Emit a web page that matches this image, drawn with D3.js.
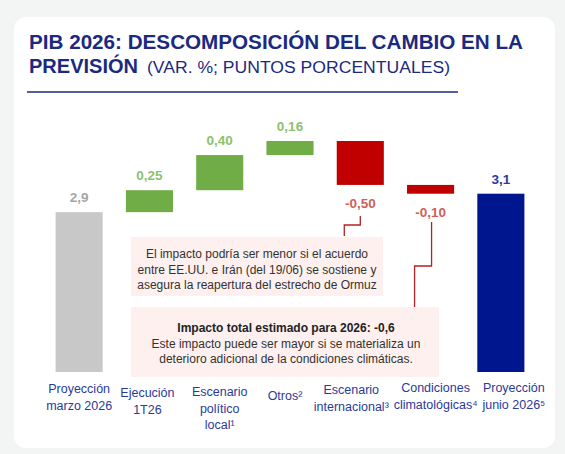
<!DOCTYPE html>
<html>
<head>
<meta charset="utf-8">
<script src="https://cdn.jsdelivr.net/npm/d3@7"></script>
<style>
  html,body{margin:0;padding:0;background:#f3f5f5;}
  svg{display:block;font-family:"Liberation Sans",Arial,sans-serif;}
</style>
</head>
<body>
<svg id="chart" width="565" height="454"></svg>
<script>
// data
const categories = ['marzo','ejec','pol','otros','intl','clima','junio']
const catLabels = [
  ['Proyección','marzo 2026'],
  ['Ejecución','1T26'],
  ['Escenario','político','local¹'],
  ['Otros²'],
  ['Escenario','internacional³'],
  ['Condiciones','climatológicas⁴'],
  ['Proyección','junio 2026⁵']
]
const deltas = [2.9, 0.25, 0.40, 0.16, -0.50, -0.10, 3.1]
const valueLabels = ['2,9','0,25','0,40','0,16','-0,50','-0,10','3,1']
const kinds = ['total','up','up','up','down','down','final']
const note1 = ['El impacto podría ser menor si el acuerdo','entre EE.UU. e Irán (del 19/06) se sostiene y','asegura la reapertura del estrecho de Ormuz']
const note2Title = 'Impacto total estimado para 2026: -0,6'
const note2 = ['Este impacto puede ser mayor si se materializa un','deterioro adicional de la condiciones climáticas.']

const NAVY = '#1b2a80'
const fill = { total:'#c8c8c8', up:'#70ad47', down:'#c00000', final:'#00168f' }
const lblColor = { total:'#a6a6a6', up:'#8cc26c', down:'#d2605a', final:'#2a3b9c' }
// label layout (first baseline, horizontal nudge from bar centre)
const catY = [393,397,396,400,394,392,392]
const catDx = [0,-2,0,-5,-9,5,13]

const svg = d3.select('#chart')

// card
svg.append('rect').attr('x',14).attr('y',17).attr('width',541).attr('height',431).attr('rx',12).attr('fill','#fff')

// title
svg.append('text').attr('x',29).attr('y',49).attr('fill',NAVY).attr('font-weight','bold').attr('font-size',20)
  .attr('textLength',494).attr('lengthAdjust','spacingAndGlyphs')
  .text('PIB 2026: DESCOMPOSICIÓN DEL CAMBIO EN LA')
const t2 = svg.append('text').attr('y',73).attr('fill',NAVY)
t2.append('tspan').attr('x',29).attr('font-weight','bold').attr('font-size',20)
  .attr('textLength',109).attr('lengthAdjust','spacingAndGlyphs').text('PREVISIÓN')
t2.append('tspan').attr('x',147).attr('font-size',16.3).attr('textLength',303).attr('lengthAdjust','spacingAndGlyphs')
  .text('(VAR. %; PUNTOS PORCENTUALES)')
svg.append('line').attr('x1',27).attr('x2',458).attr('y1',92).attr('y2',92).attr('stroke',NAVY).attr('stroke-width',1.5)

// waterfall geometry
let run = 0
const bars = deltas.map((d,i) => {
  const k = kinds[i]
  if(k==='total'){ run = d; return { lo:null, hi:d, k } }
  if(k==='final'){ return { lo:null, hi:run, k } }
  const a = run, b = run + d
  run = b
  return { lo:Math.min(a,b), hi:Math.max(a,b), k }
})

const x = d3.scaleBand().domain(categories).range([44,536]).paddingInner(0.33).paddingOuter(0.165)
const y = d3.scaleLinear().domain([1.08, 3.71]).range([372, 141])
const mid = i => x(categories[i]) + x.bandwidth()/2

const g = svg.append('g')
g.selectAll('rect.bar').data(bars).join('rect').attr('class','bar')
  .attr('x',(d,i)=>x(categories[i]))
  .attr('width',x.bandwidth())
  .attr('y',d=>y(d.hi))
  .attr('height',d=>(d.lo==null? y.range()[0] : y(d.lo)) - y(d.hi))
  .attr('fill',d=>fill[d.k])

g.selectAll('text.val').data(bars).join('text').attr('class','val')
  .attr('x',(d,i)=>mid(i))
  .attr('y',d=> d.k==='down' ? y(d.lo)+23 : y(d.hi)-10)
  .attr('text-anchor','middle').attr('font-weight','bold').attr('font-size',13.5)
  .attr('fill',d=>lblColor[d.k])
  .text((d,i)=>valueLabels[i])

// category labels
const cl = g.selectAll('text.cat').data(catLabels).join('text').attr('class','cat')
  .attr('x',(d,i)=>mid(i)+catDx[i])
  .attr('y',(d,i)=>catY[i])
  .attr('text-anchor','middle').attr('font-size',12.5).attr('fill','#2a3a9a')
cl.each(function(lines){
  const cx = d3.select(this).attr('x')
  d3.select(this).selectAll('tspan').data(lines).join('tspan')
    .attr('x',cx).attr('dy',(d,j)=>j?16.5:0).text(d=>d)
})

// notes
const noteFill = '#fdf0ef'
svg.append('rect').attr('x',131).attr('y',237).attr('width',252).attr('height',59).attr('fill',noteFill)
svg.append('text').attr('x',257).attr('y',258).attr('text-anchor','middle').attr('font-size',12).attr('fill','#333')
  .selectAll('tspan').data(note1).join('tspan').attr('x',257).attr('dy',(d,j)=>j?15.5:0).text(d=>d)

svg.append('rect').attr('x',131).attr('y',307).attr('width',308).attr('height',70).attr('fill',noteFill)
const n2 = svg.append('text').attr('x',286).attr('y',332).attr('text-anchor','middle').attr('font-size',12).attr('fill','#333')
n2.append('tspan').attr('x',286).attr('font-weight','bold').attr('fill','#222').text(note2Title)
note2.forEach(s => n2.append('tspan').attr('x',286).attr('dy',15.5).text(s))

// connectors
const cx4 = mid(4), cx5 = mid(5)
const line = d3.line()
svg.append('path').attr('d',line([[cx4,216],[cx4,225],[cx4-16,225],[cx4-16,236]]))
  .attr('fill','none').attr('stroke','#b22222').attr('stroke-width',1.3)
svg.append('path').attr('d',line([[cx5+1,222],[cx5+1,266],[cx5-16,266],[cx5-16,307]]))
  .attr('fill','none').attr('stroke','#b22222').attr('stroke-width',1.3)
</script>
</body>
</html>
